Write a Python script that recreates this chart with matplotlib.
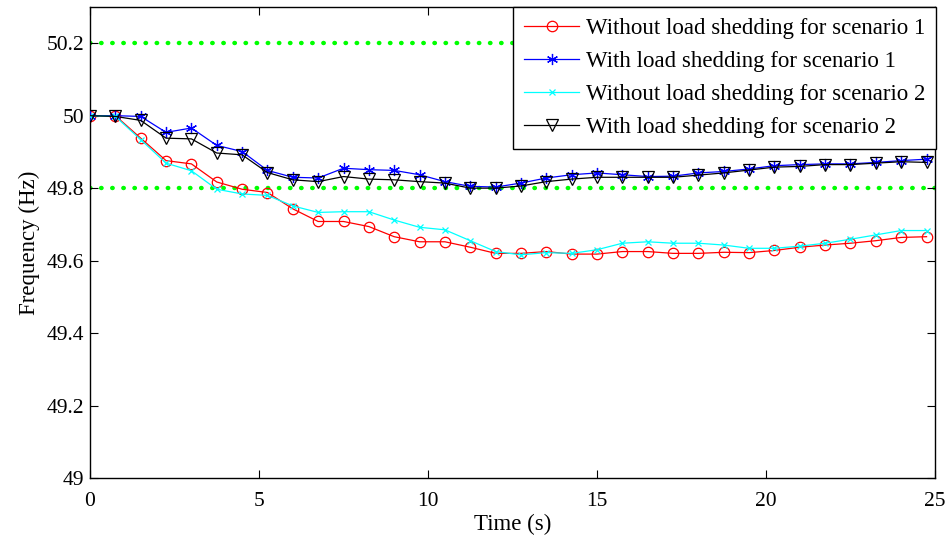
import matplotlib
matplotlib.use("Agg")
import matplotlib.pyplot as plt
import numpy as np

plt.rcParams['font.family'] = ['Liberation Serif', 'DejaVu Serif']

time_s = [i * 0.75 for i in range(34)]

without_s1 = [50.0, 50.0, 49.938, 49.876, 49.867, 49.817, 49.797, 49.788, 49.743, 49.708, 49.708, 49.694,
              49.666, 49.652, 49.652, 49.637, 49.620, 49.620, 49.625, 49.618, 49.618, 49.625, 49.625, 49.620,
              49.620, 49.623, 49.622, 49.628, 49.637, 49.643, 49.648, 49.655, 49.664, 49.666]
with_s1 = [50.0, 50.0, 49.998, 49.954, 49.966, 49.918, 49.901, 49.849, 49.830, 49.828, 49.855, 49.851,
           49.849, 49.837, 49.818, 49.805, 49.803, 49.814, 49.828, 49.837, 49.842, 49.837, 49.832, 49.833,
           49.842, 49.846, 49.853, 49.862, 49.865, 49.867, 49.867, 49.871, 49.876, 49.880]
without_s2 = [50.0, 49.998, 49.934, 49.869, 49.848, 49.797, 49.784, 49.780, 49.751, 49.733, 49.735, 49.735,
              49.712, 49.692, 49.685, 49.655, 49.625, 49.616, 49.622, 49.620, 49.630, 49.648, 49.652, 49.648,
              49.648, 49.643, 49.634, 49.634, 49.640, 49.648, 49.659, 49.671, 49.683, 49.683]
with_s2 = [50.0, 49.998, 49.987, 49.938, 49.936, 49.897, 49.892, 49.843, 49.823, 49.818, 49.832, 49.825,
           49.823, 49.818, 49.814, 49.800, 49.800, 49.806, 49.818, 49.825, 49.830, 49.830, 49.830, 49.830,
           49.836, 49.842, 49.850, 49.858, 49.860, 49.865, 49.865, 49.869, 49.873, 49.871]

limits = [50.2, 49.8]
labels = ["Without load shedding for scenario 1",
          "With load shedding for scenario 1",
          "Without load shedding for scenario 2",
          "With load shedding for scenario 2"]

fig = plt.figure(figsize=(9.49, 5.37), dpi=100)
ax = fig.add_axes([90/949, 1-478/537, (935-90)/949, (478-7)/537])

for lim in limits:
    ax.plot([0, 25], [lim, lim], color=(0, 1, 0), lw=3.2, linestyle=(0, (0.1, 2.4)),
            dash_capstyle='round', zorder=1)

lw = 0.9
ax.plot(time_s, without_s1, color='red', lw=lw, marker='o', ms=7.5, mfc='none', mew=0.9, label=labels[0], zorder=3)
ax.plot(time_s, with_s1, color='blue', lw=lw, marker=(6, 2, 0), ms=8, mew=0.9, label=labels[1], zorder=3)
ax.plot(time_s, without_s2, color=(0, 1, 1), lw=lw, marker='x', ms=4.5, mew=0.9, label=labels[2], zorder=3)
ax.plot(time_s, with_s2, color='black', lw=lw, marker='v', ms=9, mfc='none', mew=0.9, label=labels[3], zorder=3)

ax.set_xlim(0, 25)
ax.set_ylim(49, 50.3)
ax.set_xticks([0, 5, 10, 15, 20, 25])
ax.set_yticks([49, 49.2, 49.4, 49.6, 49.8, 50, 50.2])
ax.set_yticklabels(['49', '49.2', '49.4', '49.6', '49.8', '50', '50.2'])
ax.tick_params(direction='in', length=6, width=0.8, labelsize=15.5, top=True, right=True)
ax.tick_params(axis='x', pad=10)
ax.tick_params(axis='y', pad=4)
for s in ax.spines.values():
    s.set_linewidth(1.0)

ax.set_xlabel('Time (s)', fontsize=16.5, labelpad=2)
ax.set_ylabel('Frequency (Hz)', fontsize=16.5, labelpad=5)

leg = ax.legend(loc='upper right', bbox_to_anchor=(1.0015, 1.0), borderaxespad=0, fancybox=False,
                edgecolor='black', framealpha=1, fontsize=16.5, handlelength=2.4, handletextpad=0.28,
                labelspacing=0.52, borderpad=0.48)
leg.get_frame().set_linewidth(1.0)

fig.savefig('out.png', dpi=100)
